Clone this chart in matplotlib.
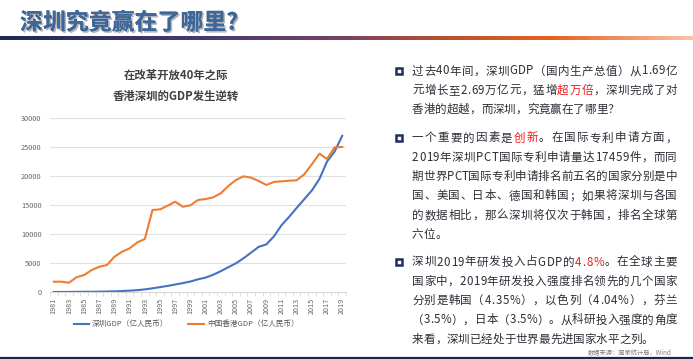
import matplotlib
matplotlib.use("Agg")
import matplotlib.pyplot as plt
import matplotlib.patheffects as pe
from matplotlib.colors import LinearSegmentedColormap
from matplotlib.font_manager import FontProperties
import numpy as np

plt.rcParams["font.family"] = ["Noto Sans CJK SC", "DejaVu Sans"]

# data (亿人民币)
years = list(range(1981, 2020))
sz_gdp = [4.9, 8.3, 13.1, 23.4, 39, 41.7, 55.9, 87, 115.7, 171.7,
          236.7, 317.3, 453.1, 634.7, 842.5, 1048, 1297, 1534, 1804, 2187,
          2482, 2970, 3586, 4282, 4951, 5814, 6802, 7787, 8201, 9582,
          11506, 12950, 14500, 16002, 17503, 19493, 22490, 24222, 26927]
hk_gdp = [1780, 1780, 1600, 2550, 2930, 3790, 4360, 4650, 6090, 6950,
          7530, 8560, 9140, 14140, 14250, 14880, 15570, 14700, 14950, 15860,
          16030, 16330, 17020, 18280, 19310, 19940, 19710, 19140, 18450, 18970,
          19080, 19190, 19260, 20290, 22020, 23850, 22930, 24950, 25000]
series_names = ["深圳GDP（亿人民币）", "中国香港GDP（亿人民币）"]
y_ticks = [0, 5000, 10000, 15000, 20000, 25000, 30000]

title = "深圳究竟赢在了哪里?"
chart_title = ["在改革开放40年之际", "香港深圳的GDP发生逆转"]
RED = "#ee1c1c"
TXT = "#2e2e38"
# each bullet: list of lines, each line = list of (text, color) segments
bullets = [
    [[("过去40年间，深圳GDP（国内生产总值）从1.69亿", TXT)],
     [("元增长至2.69万亿元，猛增", TXT), ("超万倍", RED), ("，深圳完成了对", TXT)],
     [("香港的超越，而深圳，究竟赢在了哪里？", TXT)]],
    [[("一个重要的因素是", TXT), ("创新", RED), ("。在国际专利申请方面，", TXT)],
     [("2019年深圳PCT国际专利申请量达17459件，而同", TXT)],
     [("期世界PCT国际专利申请排名前五名的国家分别是中", TXT)],
     [("国、美国、日本、德国和韩国；如果将深圳与各国", TXT)],
     [("的数据相比，那么深圳将仅次于韩国，排名全球第", TXT)],
     [("六位。", TXT)]],
    [[("深圳2019年研发投入占GDP的", TXT), ("4.8%", RED), ("。在全球主要", TXT)],
     [("国家中，2019年研发投入强度排名领先的几个国家", TXT)],
     [("分别是韩国（4.35%），以色列（4.04%），芬兰", TXT)],
     [("（3.5%），日本（3.5%）。从科研投入强度的角度", TXT)],
     [("来看，深圳已经处于世界最先进国家水平之列。", TXT)]],
]
bullet_y = [71, 138, 262]
source = "数据来源：国家统计局，Wind"

W, H = 693, 359
fig = plt.figure(figsize=(W / 100, H / 100), dpi=100)

# overlay in pixel coordinates
ov = fig.add_axes([0, 0, 1, 1])
ov.set_xlim(0, W)
ov.set_ylim(H, 0)
ov.axis("off")

# gradient rule under the title
cmap = LinearSegmentedColormap.from_list(
    "rule", [(0, "#1d2858"), (0.3, "#463a74"), (0.5, "#7a4262"),
             (0.65, "#b9522f"), (0.8, "#e6621f"), (1.0, "#f8c2a6")])
ov.imshow(np.linspace(0, 1, 300)[None, :], cmap=cmap, aspect="auto",
          extent=(0, W, 40, 36), zorder=1)
ov.set_xlim(0, W)
ov.set_ylim(H, 0)
ov.plot([0, W], [357.5, 357.5], color="#1a2550", lw=1.6, solid_capstyle="butt")

ov.text(20, 23, title, fontsize=16.5, fontweight="heavy", color="#3d6799",
        va="center", ha="left",
        path_effects=[pe.withSimplePatchShadow(offset=(1.2, -1.2), shadow_rgbFace="#888888", alpha=0.6),
                      pe.Normal()])

ov.text(176, 75, chart_title[0], fontsize=8.2, fontweight="bold", color="#404040",
        ha="center", va="center")
ov.text(176, 96, chart_title[1], fontsize=8.2, fontweight="bold", color="#404040",
        ha="center", va="center")

# chart
ax = fig.add_axes([50 / W, 1 - 292 / H, 296 / W, 174 / H])
x = np.arange(len(years))
ax.plot(x, sz_gdp, color="#4472c4", lw=1.5, label=series_names[0])
ax.plot(x, hk_gdp, color="#ed7d31", lw=1.5, label=series_names[1])
ax.set_xlim(-0.5, len(years) - 0.5)
ax.set_ylim(0, 30000)
ax.set_yticks(y_ticks)
ax.set_yticklabels([str(v) for v in y_ticks], fontsize=5.3, color="#666666")
ax.set_xticks(x[::2])
ax.set_xticklabels([str(y) for y in years[::2]], rotation=90, fontsize=5.2, color="#666666")
ax.set_xticks(np.arange(-0.5, len(years), 1), minor=True)
ax.tick_params(axis="both", which="major", length=0)
ax.tick_params(axis="y", pad=6)
ax.tick_params(axis="x", pad=4)
ax.tick_params(axis="x", which="minor", length=3, color="#d9d9d9", width=0.6)
ax.grid(axis="y", color="#e0e0e0", lw=0.8)
ax.set_axisbelow(True)
for s in ["top", "right", "left"]:
    ax.spines[s].set_visible(False)
ax.spines["bottom"].set_color("#d9d9d9")
ax.spines["bottom"].set_linewidth(0.8)
ax.patch.set_alpha(0)
leg = ax.legend(loc="center", bbox_to_anchor=(0.46, -0.185), ncol=2, frameon=False,
                fontsize=5.5, handlelength=2.0, handletextpad=0.4, columnspacing=2.6)
for t in leg.get_texts():
    t.set_color("#595959")

# right-hand text, justified
renderer = fig.canvas.get_renderer()
fp = FontProperties(family=["Noto Sans CJK SC", "DejaVu Sans"], size=8.3)
_cache = {}


def adv(ch):
    if ch not in _cache:
        w1 = renderer.get_text_width_height_descent("中" + ch + "中", fp, ismath=False)[0]
        w0 = renderer.get_text_width_height_descent("中中", fp, ismath=False)[0]
        _cache[ch] = w1 - w0
    return _cache[ch]


def draw_line(segs, x0, x1, y, justify):
    chars = [(ch, col) for txt, col in segs for ch in txt]
    widths = [adv(ch) for ch, _ in chars]
    gap = (x1 - x0 - sum(widths)) / (len(chars) - 1) if justify else 0
    xx = x0
    for (ch, col), w in zip(chars, widths):
        ov.text(xx, y, ch, fontproperties=fp, color=col, ha="left", va="center")
        xx += w + gap


line_h = 19.3
for lines, y0 in zip(bullets, bullet_y):
    ov.add_patch(plt.Rectangle((396, y0 - 3.2), 6.4, 6.4, fill=False,
                               edgecolor="#1f2d5a", lw=1.8))
    for i, segs in enumerate(lines):
        draw_line(segs, 412, 677, y0 + i * line_h, i < len(lines) - 1)

ov.text(672, 352, source, fontsize=4.5, color="#7f7f7f", ha="right", va="center")

fig.savefig("out.png", dpi=100)
